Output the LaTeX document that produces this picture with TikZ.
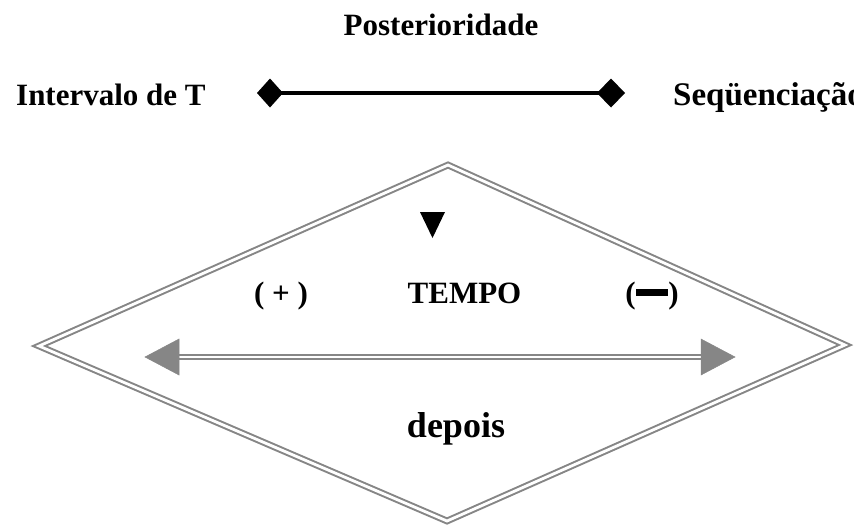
\documentclass[tikz,border=0pt]{standalone}
\usepackage{fontspec}
\setmainfont{Liberation Serif}
\begin{document}
\begin{tikzpicture}[x=1pt,y=-1pt,
  lbl/.style={inner sep=0pt,anchor=base,font=\bfseries\fontsize{31}{36}\selectfont},
  biglbl/.style={inner sep=0pt,anchor=base,font=\bfseries\fontsize{36}{42}\selectfont},
  dline/.style={draw=gray!95,line width=2pt,double=white,double distance=2.8pt,line join=miter},
  headfill/.style={fill=gray!95,draw=gray!95,line width=0.5pt,line join=miter},
  marker/.style={fill=black,draw=none}]
\path[use as bounding box] (0,0) rectangle (854,528);
\begin{scope}
\clip (0,0) rectangle (854,528);

% labels at the top
\node[lbl] (post) at (441,35) {Posterioridade};
\node[lbl,anchor=base west] (interv) at (16,105) {Intervalo de T};
\node[lbl,anchor=base west,font=\bfseries\fontsize{33}{38}\selectfont] (seq) at (673,105) {Seqüenciação};

% bar with diamond ends
\coordinate (dl) at (270,93);
\coordinate (dr) at (611,93);
\draw[line width=4.6pt] (dl) -- (dr);
\fill[marker] (dl) ++(-13,0) -- ++(13,-14.5) -- ++(13,14.5) -- ++(-13,14.5) -- cycle;
\fill[marker] (dr) ++(-14,0) -- ++(14,-14.5) -- ++(14,14.5) -- ++(-14,14.5) -- cycle;

% double-lined rhombus
\coordinate (rt) at (448,165);
\coordinate (rl) at (39,346);
\coordinate (rb) at (447,521);
\coordinate (rr) at (845,345);
\draw[dline] (rt) -- (rr) -- (rb) -- (rl) -- cycle;

% small pointer
\fill[marker] (420,212) -- (445,212) -- (432.5,238) -- cycle;

% inner labels
\node[lbl] (plus) at (281,303) {( + )};
\node[lbl] (tempo) at (464.5,303) {TEMPO};
\node[lbl] (minus) at (652,303) {(\rule[0.21em]{1.05em}{0.23em})};
\node[biglbl] (depois) at (456,437) {depois};

% two-headed double arrow
\coordinate (al) at (179,357);
\coordinate (ar) at (701,357);
\draw[dline] (al) -- (ar);
\filldraw[headfill] (al) ++(0,-18) -- ++(0,36) -- (145,357) -- cycle;
\filldraw[headfill] (ar) ++(0,-18) -- ++(0,36) -- (735,357) -- cycle;
\end{scope}
\end{tikzpicture}
\end{document}
